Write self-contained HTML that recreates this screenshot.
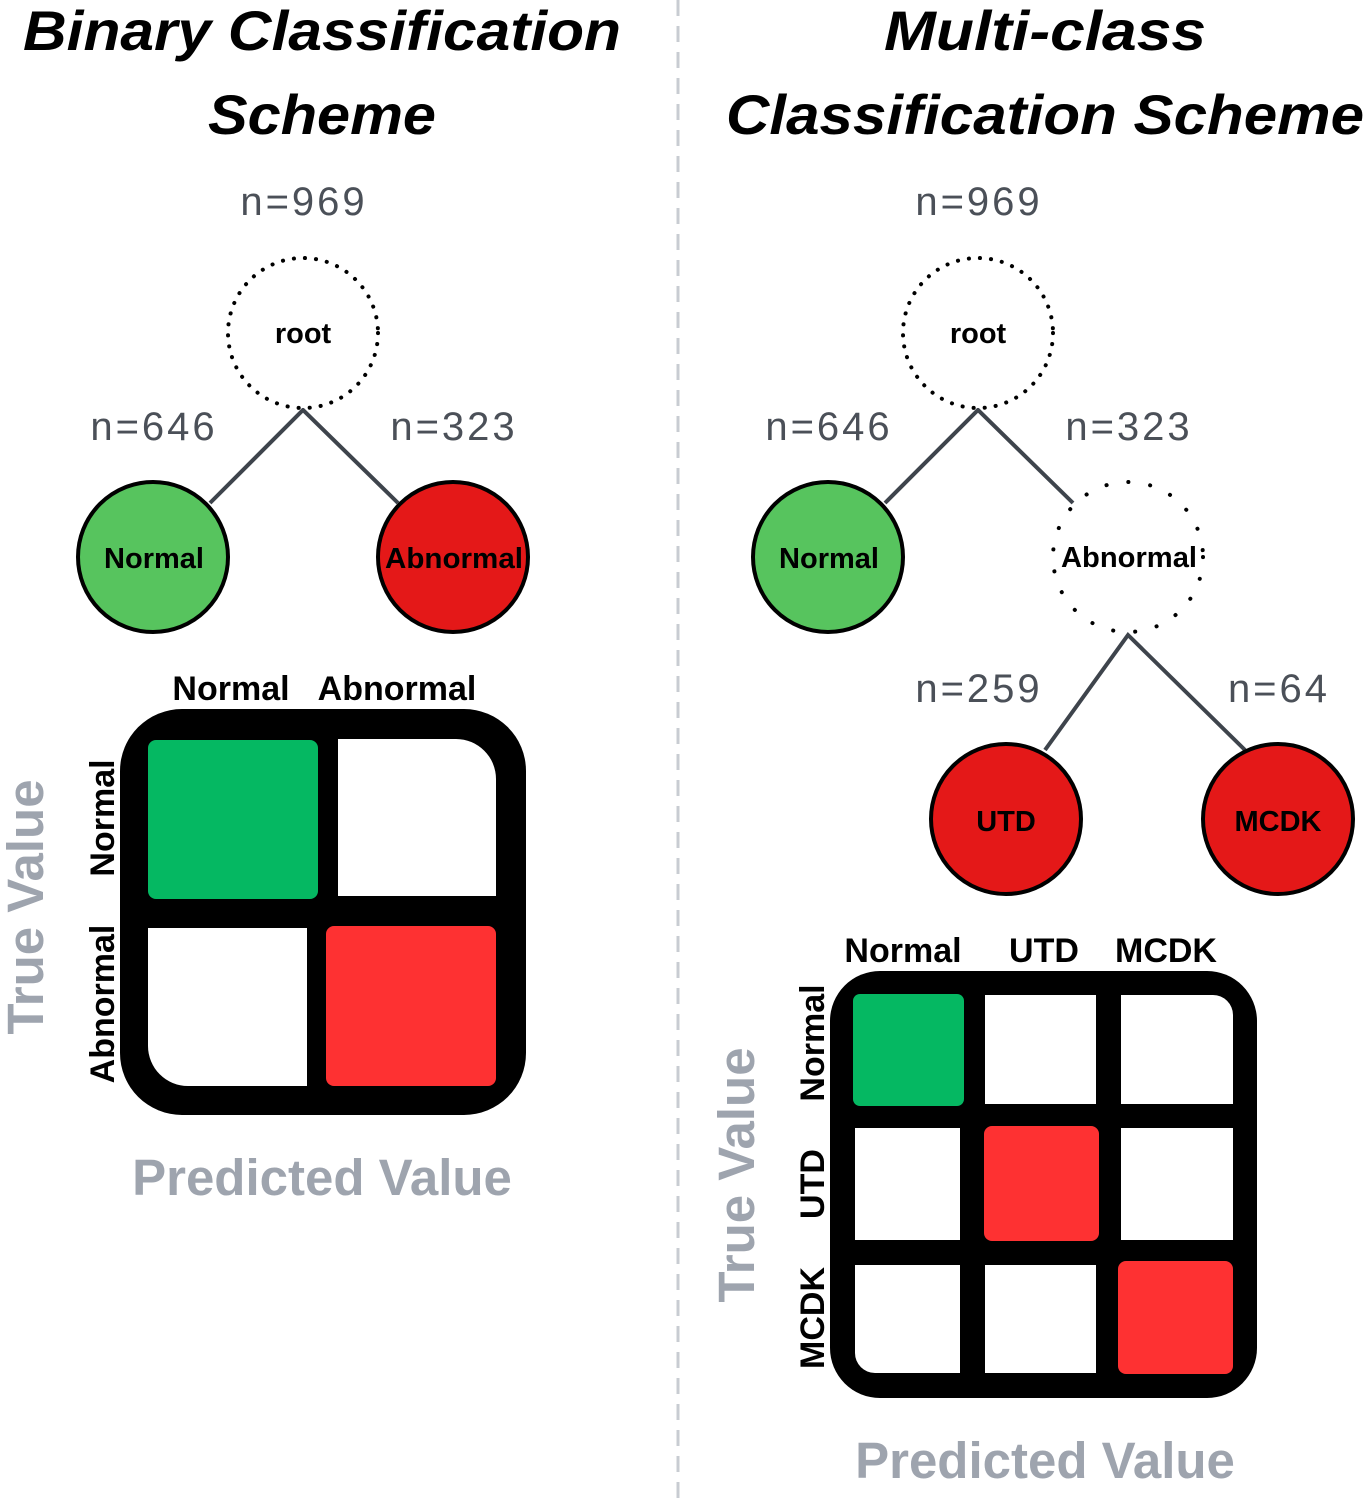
<!DOCTYPE html>
<html><head><meta charset="utf-8"><style>
html,body{margin:0;padding:0;background:#fff;}
svg{display:block;}
</style></head><body>
<svg width="1364" height="1502" viewBox="0 0 1364 1502" xmlns="http://www.w3.org/2000/svg" font-family="Liberation Sans, Arial, sans-serif">
<rect width="1364" height="1502" fill="#fff"/>
<line x1="678" y1="0" x2="678" y2="1502" stroke="#c8ccd2" stroke-width="3" stroke-dasharray="16,10"/>

<!-- Titles -->
<g font-weight="bold" font-style="italic" font-size="56" fill="#000" text-anchor="middle">
<text x="322" y="50" textLength="598" lengthAdjust="spacingAndGlyphs">Binary Classification</text>
<text x="322" y="134" textLength="228" lengthAdjust="spacingAndGlyphs">Scheme</text>
<text x="1045" y="50" textLength="322" lengthAdjust="spacingAndGlyphs">Multi-class</text>
<text x="1045" y="134" textLength="638" lengthAdjust="spacingAndGlyphs">Classification Scheme</text>
</g>

<!-- n labels -->
<g font-size="40" fill="#4b5058" text-anchor="middle" letter-spacing="3">
<text x="304" y="215">n=969</text>
<text x="154" y="440">n=646</text>
<text x="454" y="440">n=323</text>
<text x="979" y="215">n=969</text>
<text x="829" y="440">n=646</text>
<text x="1129" y="440">n=323</text>
<text x="979" y="702">n=259</text>
<text x="1279" y="702">n=64</text>
</g>

<!-- Tree lines -->
<g stroke="#3e444c" stroke-width="4" fill="none">
<polyline points="210,503 303,410 398,503"/>
<polyline points="885,503 978,410 1073,503"/>
<polyline points="1045,750 1128,635 1245,750"/>
</g>

<!-- Nodes left -->
<circle cx="303" cy="333" r="75" fill="#fff" stroke="#000" stroke-width="4" stroke-dasharray="0.1,11" stroke-linecap="round"/>
<circle cx="153" cy="557" r="75" fill="#57c45e" stroke="#000" stroke-width="4"/>
<circle cx="453" cy="557" r="75" fill="#e41818" stroke="#000" stroke-width="4"/>
<!-- Nodes right -->
<circle cx="978" cy="333" r="75" fill="#fff" stroke="#000" stroke-width="4" stroke-dasharray="0.1,11" stroke-linecap="round"/>
<circle cx="828" cy="557" r="75" fill="#57c45e" stroke="#000" stroke-width="4"/>
<circle cx="1128" cy="557" r="75" fill="#fff" stroke="#000" stroke-width="4" stroke-dasharray="0.1,22" stroke-linecap="round"/>
<circle cx="1006" cy="819" r="75" fill="#e41818" stroke="#000" stroke-width="4"/>
<circle cx="1278" cy="819" r="75" fill="#e41818" stroke="#000" stroke-width="4"/>

<g font-weight="bold" font-size="29" fill="#000" text-anchor="middle">
<text x="303" y="343">root</text>
<text x="154" y="568">Normal</text>
<text x="454" y="568" textLength="138" lengthAdjust="spacingAndGlyphs">Abnormal</text>
<text x="978" y="343">root</text>
<text x="829" y="568">Normal</text>
<text x="1129" y="567" textLength="136" lengthAdjust="spacingAndGlyphs">Abnormal</text>
<text x="1006" y="831">UTD</text>
<text x="1278" y="831">MCDK</text>
</g>

<!-- Binary matrix -->
<g font-weight="bold" font-size="34" fill="#000">
<text x="231" y="700" text-anchor="middle">Normal</text>
<text x="397" y="700" text-anchor="middle">Abnormal</text>
<text transform="translate(114,818) rotate(-90)" text-anchor="middle">Normal</text>
<text transform="translate(114,1004) rotate(-90)" text-anchor="middle">Abnormal</text>
</g>
<rect x="120" y="709" width="406" height="406" rx="62" fill="#000"/>
<rect x="148" y="740" width="170" height="159" rx="8" fill="#05b862"/>
<path d="M338 739 H456 A40 40 0 0 1 496 779 V896 H338 Z" fill="#fff"/>
<path d="M148 928 H307 V1086 H188 A40 40 0 0 1 148 1046 Z" fill="#fff"/>
<rect x="326" y="926" width="170" height="160" rx="8" fill="#fe3132"/>
<g font-weight="bold" fill="#9ea4ae" text-anchor="middle">
<text transform="translate(43,907) rotate(-90)" font-size="51">True Value</text>
<text x="322" y="1195" font-size="51">Predicted Value</text>
</g>

<!-- Multi matrix -->
<g font-weight="bold" font-size="34" fill="#000" text-anchor="middle">
<text x="903" y="962">Normal</text>
<text x="1044" y="962">UTD</text>
<text x="1166" y="962">MCDK</text>
<text transform="translate(824,1043) rotate(-90)">Normal</text>
<text transform="translate(824,1184) rotate(-90)">UTD</text>
<text transform="translate(824,1318) rotate(-90)">MCDK</text>
</g>
<rect x="830" y="971" width="427" height="427" rx="50" fill="#000"/>
<rect x="853" y="994" width="111" height="112" rx="7" fill="#05b862"/>
<rect x="985" y="995" width="111" height="109" fill="#fff"/>
<path d="M1121 995 H1213 A20 20 0 0 1 1233 1015 V1104 H1121 Z" fill="#fff"/>
<rect x="855" y="1128" width="105" height="112" fill="#fff"/>
<rect x="984" y="1126" width="115" height="115" rx="8" fill="#fe3132"/>
<rect x="1121" y="1128" width="112" height="112" fill="#fff"/>
<path d="M855 1265 H960 V1373 H875 A20 20 0 0 1 855 1353 Z" fill="#fff"/>
<rect x="985" y="1265" width="111" height="108" fill="#fff"/>
<rect x="1118" y="1261" width="115" height="113" rx="8" fill="#fe3132"/>
<g font-weight="bold" fill="#9ea4ae" text-anchor="middle">
<text transform="translate(754,1175) rotate(-90)" font-size="51">True Value</text>
<text x="1045" y="1478" font-size="51">Predicted Value</text>
</g>
</svg>
</body></html>
